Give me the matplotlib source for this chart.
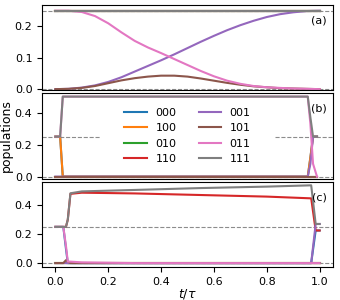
import matplotlib
matplotlib.use('Agg')
import matplotlib.pyplot as plt

labels = ['000', '100', '010', '110', '001', '101', '011', '111']

# panel (a)
t_a = [0.0, 0.05, 0.10, 0.15, 0.20, 0.25, 0.30, 0.35, 0.40, 0.45, 0.50,
       0.55, 0.60, 0.65, 0.70, 0.75, 0.80, 0.85, 0.90, 0.95, 1.0]
p_a_000 = [0.250] * 21
p_a_100 = [0.250] * 21
p_a_010 = [0.250] * 21
p_a_110 = [0.250] * 21
p_a_001 = [0.000, 0.001, 0.005, 0.012, 0.023, 0.038, 0.056, 0.074, 0.092, 0.111, 0.131,
           0.151, 0.170, 0.188, 0.204, 0.218, 0.230, 0.239, 0.245, 0.249, 0.250]
p_a_101 = [0.000, 0.001, 0.004, 0.010, 0.019, 0.028, 0.035, 0.040, 0.043, 0.043, 0.040,
           0.034, 0.027, 0.020, 0.014, 0.009, 0.006, 0.003, 0.002, 0.001, 0.000]
p_a_011 = [0.250, 0.250, 0.246, 0.233, 0.210, 0.181, 0.154, 0.133, 0.115, 0.096, 0.077,
           0.058, 0.041, 0.027, 0.017, 0.010, 0.006, 0.004, 0.002, 0.001, 0.000]
p_a_111 = [0.250] * 21

# panel (b)
t_b = [0.0, 0.018, 0.028, 0.955, 0.965, 0.975, 0.99]
p_b_000 = [0.25, 0.25, 0.0, 0.0, 0.12, 0.25, 0.25]
p_b_100 = [0.25, 0.25, 0.0, 0.0, 0.12, 0.25, 0.25]
p_b_010 = [0.0, 0.0, 0.0, 0.0, 0.0, 0.0, 0.0]
p_b_110 = [0.0, 0.0, 0.0, 0.0, 0.0, 0.0, 0.0]
p_b_001 = [0.0, 0.0, 0.0, 0.0, 0.08, 0.25, 0.25]
p_b_101 = [0.0, 0.0, 0.0, 0.0, 0.0, 0.0, 0.0]
p_b_011 = [0.25, 0.25, 0.50, 0.50, 0.33, 0.08, 0.0]
p_b_111 = [0.25, 0.25, 0.50, 0.50, 0.37, 0.25, 0.25]

# panel (c)
t_c = [0.0, 0.030, 0.040, 0.047, 0.057, 0.10, 0.30, 0.55, 0.80, 0.968, 0.985, 1.0]
p_c_000 = [0.25, 0.25, 0.10, 0.0, 0.0, 0.0, 0.0, 0.0, 0.0, 0.0, 0.225, 0.225]
p_c_100 = [0.0, 0.0, 0.0, 0.0, 0.0, 0.0, 0.0, 0.0, 0.0, 0.0, 0.0, 0.0]
p_c_010 = [0.0, 0.0, 0.0, 0.0, 0.0, 0.0, 0.0, 0.0, 0.0, 0.0, 0.0, 0.0]
p_c_110 = [0.25, 0.25, 0.25, 0.30, 0.478, 0.486, 0.481, 0.470, 0.459, 0.447, 0.225, 0.225]
p_c_001 = [0.0, 0.0, 0.0, 0.0, 0.0, 0.0, 0.0, 0.0, 0.0, 0.0, 0.27, 0.27]
p_c_101 = [0.0, 0.0, 0.02, 0.01, 0.0, 0.0, 0.0, 0.0, 0.0, 0.0, 0.0, 0.0]
p_c_011 = [0.25, 0.25, 0.12, 0.01, 0.01, 0.005, 0.0, 0.0, 0.0, 0.0, 0.0, 0.0]
p_c_111 = [0.25, 0.25, 0.25, 0.30, 0.482, 0.495, 0.505, 0.518, 0.528, 0.537, 0.27, 0.27]

panels = [
    (t_a, [p_a_000, p_a_100, p_a_010, p_a_110, p_a_001, p_a_101, p_a_011, p_a_111]),
    (t_b, [p_b_000, p_b_100, p_b_010, p_b_110, p_b_001, p_b_101, p_b_011, p_b_111]),
    (t_c, [p_c_000, p_c_100, p_c_010, p_c_110, p_c_001, p_c_101, p_c_011, p_c_111]),
]
ylims = [(-0.004, 0.268), (-0.013, 0.52), (-0.027, 0.562)]
yticks = [[0.0, 0.1, 0.2], [0.0, 0.2, 0.4], [0.0, 0.2, 0.4]]
tags = ['(a)', '(b)', '(c)']

fig, axes = plt.subplots(3, 1, sharex=True, figsize=(3.4, 3.0), dpi=100)
fig.subplots_adjust(left=0.124, right=0.979, top=0.983, bottom=0.11, hspace=0.035)

for i, ax in enumerate(axes):
    t, pops = panels[i]
    ax.axhline(0.0, color='0.55', ls='--', lw=0.8)
    if i == 1:
        ax.axhline(0.25, xmax=0.2, color='0.55', ls='--', lw=0.8)
        ax.axhline(0.25, xmin=0.8, color='0.55', ls='--', lw=0.8)
    else:
        ax.axhline(0.25, color='0.55', ls='--', lw=0.8)
    for k, p in enumerate(pops):
        ax.plot(t, p, color='C%d' % k, lw=1.5, label=labels[k])
    ax.set_ylim(*ylims[i])
    ax.set_yticks(yticks[i])
    ax.tick_params(labelsize=8)
    ax.text(0.98, 0.82, tags[i], transform=ax.transAxes, ha='right', va='center', fontsize=8)
    if i < 2:
        ax.tick_params(bottom=False)

axes[1].legend(loc='center', ncol=2, fontsize=8, frameon=False)
axes[1].set_ylabel('populations', fontsize=9, labelpad=1)
axes[2].set_xlim(-0.05, 1.05)
axes[2].set_xticks([0.0, 0.2, 0.4, 0.6, 0.8, 1.0])
axes[2].set_xlabel(r'$t/\tau$', fontsize=9, labelpad=0)

plt.savefig('out.png', dpi=100)
